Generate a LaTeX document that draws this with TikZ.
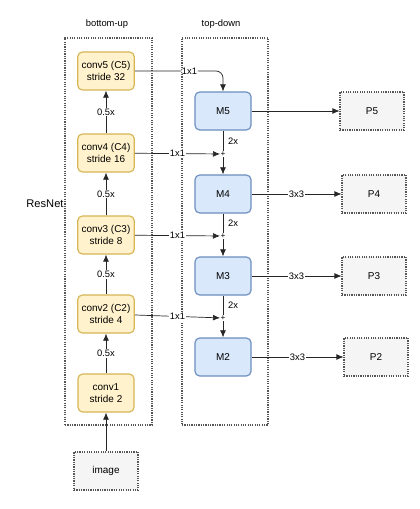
\documentclass[tikz,border=0pt]{standalone}
\usepackage{fontspec}
\setmainfont{Liberation Sans}
\usetikzlibrary{arrows.meta}

\definecolor{yfill}{HTML}{FFF2CC}
\definecolor{yline}{HTML}{D6B656}
\definecolor{bfill}{HTML}{DAE8FC}
\definecolor{bline}{HTML}{6C8EBF}
\definecolor{gfill}{HTML}{F5F5F5}
\definecolor{gline}{HTML}{555555}

\tikzset{
  convbox/.style={draw=yline, fill=yfill, line width=1pt, rounded corners=4pt,
    minimum width=1.68cm, minimum height=1.14cm, align=center,
    font=\fontsize{8.5}{10}\selectfont},
  mbox/.style={convbox, draw=bline, fill=bfill},
  pbox/.style={draw=gline, fill=gfill, line width=0.9pt, dash pattern=on 1pt off 1pt,
    minimum width=1.92cm, minimum height=1.14cm, font=\fontsize{8.5}{10}\selectfont},
  group/.style={draw=gline, line width=0.9pt, dash pattern=on 1pt off 1pt},
  lbl/.style={fill=white, inner sep=1pt, font=\fontsize{8}{9}\selectfont},
  plus/.style={inner sep=0.3pt, font=\fontsize{7}{7}\selectfont},
  link/.style={line width=0.6pt, draw=black!85},
  arr/.style={link, -{Latex[length=6pt, width=5pt]}}
}

\begin{document}
\begin{tikzpicture}[x=0.03cm, y=-0.03cm]
    \useasboundingbox (0,0) rectangle (419,509);

    % Dotted groups and their titles
    \node[group, minimum width=2.61cm, minimum height=11.61cm] (bu) at (108.5,231.5) {};
    \node[group, minimum width=2.58cm, minimum height=11.61cm] (td) at (225,231.5) {};
    \node[font=\fontsize{8}{9}\selectfont] (butitle) at (107,24) {bottom-up};
    \node[font=\fontsize{8}{9}\selectfont] (tdtitle) at (221,24) {top-down};
    \node[font=\fontsize{9.5}{11}\selectfont] (resnet) at (45,204) {ResNet};

    % Bottom-up pathway
    \node[convbox] (c5) at (106,71) {conv5 (C5)\\stride 32};
    \node[convbox] (c4) at (106,153) {conv4 (C4)\\stride 16};
    \node[convbox] (c3) at (106,235) {conv3 (C3)\\stride 8};
    \node[convbox] (c2) at (106,314) {conv2 (C2)\\stride 4};
    \node[convbox] (c1) at (106,393) {conv1\\stride 2};
    \node[pbox, minimum width=1.92cm] (img) at (106,471) {image};

    \draw[arr] (img) -- (c1);
    \foreach \a/\b in {c1/c2, c2/c3, c3/c4, c4/c5} {
        \draw[arr] (\a) -- node[lbl] {0.5x} (\b);
    }

    % Top-down pathway
    \node[mbox] (m5) at (223,111) {M5};
    \node[mbox] (m4) at (223,194) {M4};
    \node[mbox] (m3) at (223,276) {M3};
    \node[mbox] (m2) at (223,357) {M2};

    \node[plus] (s4) at (223,154) {+};
    \node[plus] (s3) at (223,236) {+};
    \node[plus] (s2) at (223,318) {+};

    \draw[arr, rounded corners=6pt] (c5) -| node[lbl, pos=0.31] {1x1} (m5);
    \foreach \c/\s in {c4/s4, c3/s3, c2/s2} {
        \draw[arr] (\c) -- node[lbl] {1x1} (\s);
    }
    \foreach \m/\s/\n in {m5/s4/m4, m4/s3/m3, m3/s2/m2} {
        \draw[link] (\m) -- node[lbl, anchor=west, xshift=3pt] {2x} (\s);
        \draw[arr] (\s) -- (\n);
    }

    % Outputs
    \node[pbox] (p5) at (372,111) {P5};
    \node[pbox] (p4) at (374,194) {P4};
    \node[pbox] (p3) at (374,276) {P3};
    \node[pbox] (p2) at (376,357) {P2};

    \draw[arr] (m5) -- (p5);
    \foreach \m/\p in {m4/p4, m3/p3, m2/p2} {
        \draw[arr] (\m) -- node[lbl] {3x3} (\p);
    }
\end{tikzpicture}
\end{document}
